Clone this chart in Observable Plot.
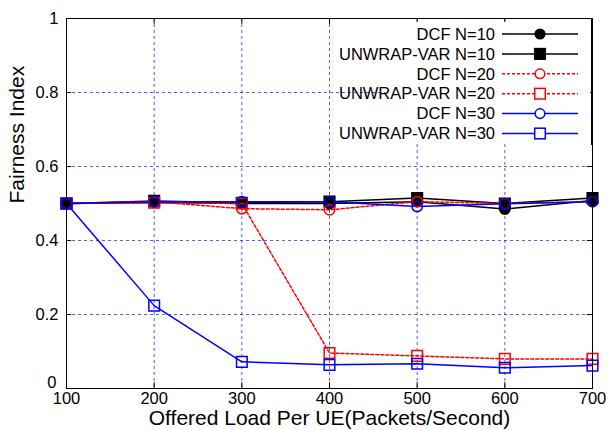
<!DOCTYPE html>
<html>
<head>
<meta charset="utf-8">
<script src="https://cdn.jsdelivr.net/npm/d3@7"></script>
<script src="https://cdn.jsdelivr.net/npm/@observablehq/plot@0.6"></script>
<style>
  html, body { margin: 0; padding: 0; background: #fff; }
  #chart { width: 610px; height: 430px; }
  svg { font-family: "Liberation Sans", Arial, Helvetica, sans-serif; }
</style>
</head>
<body>
<div id="chart"></div>
<script>
const loads = [100, 200, 300, 400, 500, 600, 700];
const seriesNames = ["DCF N=10", "UNWRAP-VAR N=10", "DCF N=20", "UNWRAP-VAR N=20", "DCF N=30", "UNWRAP-VAR N=30"];
const dcf10 = [0.500, 0.503, 0.500, 0.500, 0.505, 0.485, 0.508];
const unwrap10 = [0.500, 0.507, 0.502, 0.505, 0.515, 0.500, 0.515];
const dcf20 = [0.500, 0.505, 0.486, 0.483, 0.505, 0.500, 0.505];
const unwrap20 = [0.500, 0.502, 0.500, 0.096, 0.088, 0.080, 0.080];
const dcf30 = [0.500, 0.505, 0.505, 0.505, 0.492, 0.499, 0.505];
const unwrap30 = [0.500, 0.224, 0.072, 0.064, 0.067, 0.056, 0.062];
const xTicks = [100, 200, 300, 400, 500, 600, 700];
const yTicks = [0, 0.2, 0.4, 0.6, 0.8, 1];
const yTickLabels = ["0", "0.2", "0.4", "0.6", "0.8", "1"];
const xTitle = "Offered Load Per UE(Packets/Second)";
const yTitle = "Fairness Index";

const styles = [
  {color: "#000000", symbol: "circle", filled: true, dash: null},
  {color: "#000000", symbol: "square", filled: true, dash: null},
  {color: "#ff0000", symbol: "circle", filled: false, dash: "3,2"},
  {color: "#ff0000", symbol: "square", filled: false, dash: "3,2"},
  {color: "#0000ff", symbol: "circle", filled: false, dash: null},
  {color: "#0000ff", symbol: "square", filled: false, dash: null}
];
const values = [dcf10, unwrap10, dcf20, unwrap20, dcf30, unwrap30];
const series = seriesNames.map((name, i) => ({
  name, style: styles[i],
  data: loads.map((x, j) => ({x, y: values[i][j], name}))
}));

const W = 610, H = 430;
const margin = {top: 18, right: 18, bottom: 42, left: 66};
const font = '"Liberation Sans", Arial, Helvetica, sans-serif';

const marks = [];
// grid
marks.push(Plot.gridX(xTicks.slice(1, -1), {stroke: "#0000ff", strokeOpacity: 0.65, strokeDasharray: "3,3", strokeWidth: 1}));
marks.push(Plot.gridY(yTicks.slice(1, -1), {stroke: "#0000ff", strokeOpacity: 0.65, strokeDasharray: "3,3", strokeWidth: 1}));
// axes (labels only)
marks.push(Plot.axisX(xTicks, {anchor: "bottom", tickSize: 0, tickPadding: 4, fontSize: 16.5, fill: "#000", label: null}));
marks.push(Plot.axisY(yTicks.slice(1), {anchor: "left", tickSize: 0, tickPadding: 8, fontSize: 16.5, fill: "#000", tickFormat: d => yTickLabels[yTicks.indexOf(d)], label: null}));
marks.push(Plot.axisY([0], {anchor: "left", tickSize: 0, tickPadding: 10, dy: -6, fontSize: 16.5, fill: "#000", tickFormat: () => yTickLabels[0], label: null}));
// inward ticks
marks.push(Plot.ruleX(xTicks.slice(1, -1), {x: d => d, y1: 0, y2: 0.016, stroke: "#000"}));
marks.push(Plot.ruleX(xTicks.slice(1, -1), {x: d => d, y1: 1, y2: 0.984, stroke: "#000"}));
marks.push(Plot.ruleY(yTicks.slice(1, -1), {y: d => d, x1: 100, x2: 106, stroke: "#000"}));
marks.push(Plot.ruleY(yTicks.slice(1, -1), {y: d => d, x1: 700, x2: 694, stroke: "#000"}));
// titles
marks.push(Plot.text([xTitle], {text: d => d, frameAnchor: "bottom", lineAnchor: "middle", dy: 30, fontSize: 21, fill: "#000"}));
marks.push(Plot.text([yTitle], {text: d => d, frameAnchor: "left", lineAnchor: "middle", rotate: -90, dx: -49, fontSize: 21, fill: "#000"}));

series.forEach(s => {
  marks.push(Plot.line(s.data, {x: "x", y: "y", stroke: s.style.color, strokeWidth: 1.5, strokeDasharray: s.style.dash}));
});
series.forEach(s => {
  const st = s.style;
  marks.push(Plot.dot(s.data, {
    x: "x", y: "y", symbol: st.symbol, r: st.symbol === "square" ? 6 : 5.2,
    fill: st.filled ? st.color : "none", stroke: st.color, strokeWidth: 1.5
  }));
});
marks.push(Plot.frame({stroke: "#000", strokeWidth: 1}));

const chart = Plot.plot({
  width: W, height: H,
  marginTop: margin.top, marginRight: margin.right, marginBottom: margin.bottom, marginLeft: margin.left,
  style: {fontFamily: font, fontSize: "16px", background: "#fff", color: "#000", overflow: "visible"},
  x: {domain: [100, 700], axis: null},
  y: {domain: [0, 1], axis: null},
  marks
});

document.getElementById("chart").appendChild(chart);

// legend (top-right, inside frame) with white backing box
const svg = d3.select(chart);
const g = svg.append("g").attr("font-size", 16.5).attr("font-family", font);
g.append("rect").attr("x", 385).attr("y", 22).attr("width", 205).attr("height", 121).attr("fill", "#fff");
const textRight = 495, lineX1 = 502, lineX2 = 578, markX = 540, row0 = 34, rowH = 19.9;
series.forEach((s, i) => {
  const y = row0 + i * rowH;
  const st = s.style;
  g.append("text").attr("x", textRight).attr("y", y).attr("dy", "0.35em").attr("text-anchor", "end").attr("fill", "#000").text(s.name);
  g.append("line").attr("x1", lineX1).attr("x2", lineX2).attr("y1", y).attr("y2", y)
    .attr("stroke", st.color).attr("stroke-width", 1.5).attr("stroke-dasharray", st.dash);
  if (st.symbol === "circle") {
    g.append("circle").attr("cx", markX).attr("cy", y).attr("r", 4.8)
      .attr("fill", st.filled ? st.color : "#fff").attr("stroke", st.color).attr("stroke-width", 1.5);
  } else {
    g.append("rect").attr("x", markX - 5.3).attr("y", y - 5.3).attr("width", 10.6).attr("height", 10.6)
      .attr("fill", st.filled ? st.color : "#fff").attr("stroke", st.color).attr("stroke-width", 1.5);
  }
});
// re-draw the frame's top/right edges over the legend box
g.append("line").attr("x1", 385).attr("x2", 592).attr("y1", 18.5).attr("y2", 18.5).attr("stroke", "#000");
g.append("line").attr("x1", 591.5).attr("x2", 591.5).attr("y1", 18).attr("y2", 145).attr("stroke", "#000");
</script>
</body>
</html>
